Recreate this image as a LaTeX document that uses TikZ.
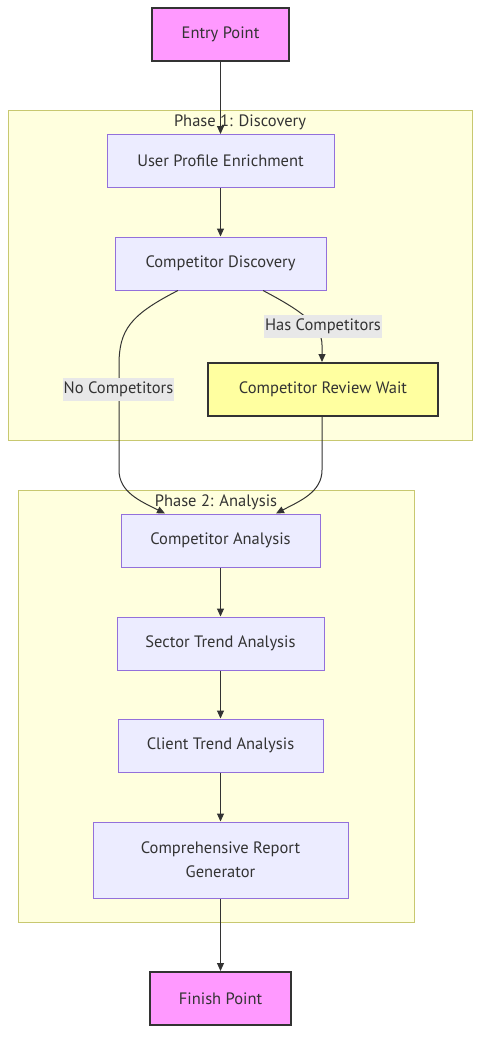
\documentclass[tikz,border=0pt]{standalone}
\usepackage{fontspec}
\setmainfont{PT Sans}
\usetikzlibrary{arrows.meta}

\definecolor{txtgray}{HTML}{333333}
\definecolor{pinkfill}{HTML}{FF99FF}
\definecolor{procfill}{HTML}{ECECFF}
\definecolor{procline}{HTML}{9370DB}
\definecolor{waitfill}{HTML}{FFFFA0}
\definecolor{clusfill}{HTML}{FFFFDE}
\definecolor{clusline}{HTML}{C8C870}
\definecolor{lblfill}{HTML}{E8E8E8}

\begin{document}
\begin{tikzpicture}[x=1pt, y=-1pt,
  every node/.style={font=\fontsize{16.5}{24}\selectfont, text=txtgray, inner sep=0pt},
  proc/.style={draw=procline, fill=procfill, line width=1pt, minimum height=53pt},
  endpt/.style={draw=txtgray, fill=pinkfill, line width=2pt, minimum height=53pt},
  waitbox/.style={draw=txtgray, fill=waitfill, line width=2pt, minimum height=53pt},
  cluster/.style={draw=clusline, fill=clusfill, line width=1pt},
  edgelbl/.style={fill=lblfill, minimum height=23pt, inner xsep=1pt},
  edge/.style={draw=txtgray, line width=1pt, -{Triangle[length=8pt,width=7pt]}}]
\useasboundingbox (0,0) rectangle (488,1050);

% clusters
\node[cluster, minimum width=464pt, minimum height=330pt] (phaseA) at (240,275) {};
\node (phaseAtitle) at (240,122) {Phase 1: Discovery};
\node[cluster, minimum width=396pt, minimum height=432pt] (phaseB) at (216,706) {};
\node (phaseBtitle) at (216,502) {Phase 2: Analysis};

% nodes
\node[endpt, minimum width=137pt] (entry) at (220.5,34.5) {Entry Point};
\node[proc, minimum width=227pt] (profile) at (220.5,161) {User Profile Enrichment};
\node[proc, minimum width=211pt] (discover) at (220.5,263.5) {Competitor Discovery};
\node[waitbox, minimum width=230pt] (review) at (323,389.5) {Competitor Review Wait};
\node[proc, minimum width=199pt] (analysis) at (220.5,540.5) {Competitor Analysis};
\node[proc, minimum width=207pt] (sector) at (220.5,643.5) {Sector Trend Analysis};
\node[proc, minimum width=205pt] (client) at (220.5,745.5) {Client Trend Analysis};
\node[proc, minimum width=255pt, minimum height=76pt, align=center] (report) at (220.5,860) {Comprehensive Report\\Generator};
\node[endpt, minimum width=141pt] (finish) at (220.5,998.5) {Finish Point};

% edges
\draw[edge] (entry) -- (profile);
\draw[edge] (profile) -- (discover);
\coordinate (hasbend) at (322,345);
\draw[edge] ([xshift=42.5pt]discover.south) .. controls (300,310) and (322,325) .. (hasbend) -- (review.north -| hasbend);
\coordinate (nobendA) at (119,365);
\coordinate (nobendB) at (119,470);
\draw[edge] ([xshift=-42.5pt]discover.south) .. controls (130,315) and (119,330) .. (nobendA) -- (nobendB) .. controls (119,492) and (140,501) .. ([xshift=-55.5pt]analysis.north);
\coordinate (waitbend) at (322,470);
\draw[edge] (review.south -| waitbend) -- (waitbend) .. controls (322,492) and (300,501) .. ([xshift=55.5pt]analysis.north);
\draw[edge] (analysis) -- (sector);
\draw[edge] (sector) -- (client);
\draw[edge] (client) -- (report);
\draw[edge] (report) -- (finish);

% edge labels
\node[edgelbl] (haslbl) at (323,326.5) {Has Competitors};
\node[edgelbl] (nolbl) at (118.5,389.5) {No Competitors};
\end{tikzpicture}
\end{document}
